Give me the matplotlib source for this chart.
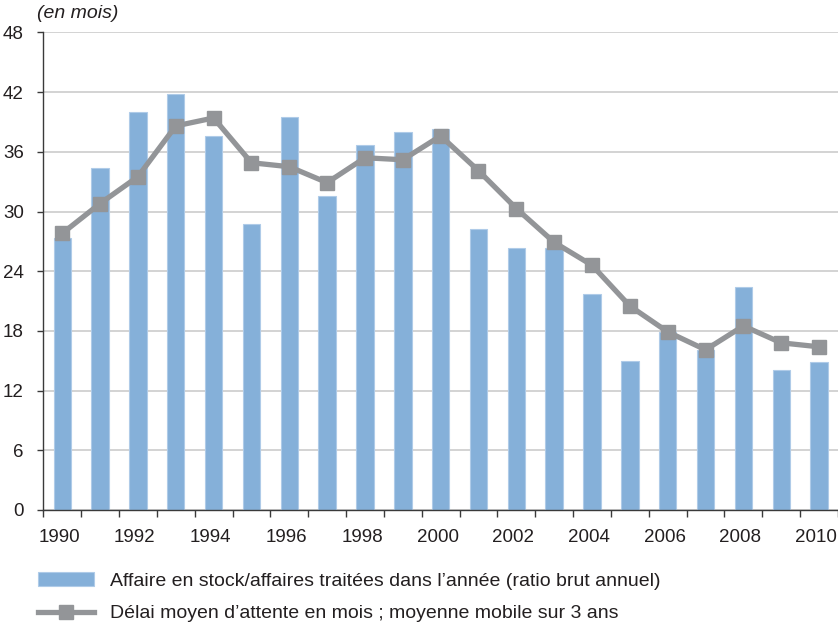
import matplotlib
matplotlib.use("Agg")
import matplotlib.pyplot as plt
import matplotlib.transforms as mtransforms
from matplotlib.patches import Patch
from matplotlib.lines import Line2D

years = list(range(1990, 2011))
ratio_brut = [27.3, 34.4, 40.0, 41.8, 37.6, 28.7, 39.5, 31.6, 36.7, 38.0, 38.3,
              28.2, 26.3, 26.3, 21.7, 15.0, 17.9, 16.1, 22.4, 14.1, 14.9]
delai_moyen = [27.8, 30.8, 33.5, 38.6, 39.4, 34.9, 34.5, 32.9, 35.4, 35.2, 37.6,
               34.1, 30.3, 26.9, 24.6, 20.5, 17.9, 16.1, 18.5, 16.8, 16.4]
yticks = list(range(0, 49, 6))
xtick_years = list(range(1990, 2011, 2))
label_bars = "Affaire en stock/affaires traitées dans l’année (ratio brut annuel)"
label_line = "Délai moyen d’attente en mois ; moyenne mobile sur 3 ans"
unit_label = "(en mois)"

plt.rcParams['font.family'] = ['Liberation Sans', 'DejaVu Sans']

W, H = 838, 623
fig = plt.figure(figsize=(W / 100, H / 100), dpi=100)
ax = fig.add_axes([43.3 / W, 1 - 510 / H, 1.0 - 43.3 / W, (510 - 32.4) / H])

bar_color = '#85B0D9'
line_color = '#939598'
text_color = '#231F20'
spine_color = '#3A3A3A'

ax.bar(years, ratio_brut, width=0.46, color=bar_color, edgecolor='#AFCBE8',
       linewidth=0.8, zorder=2)
ax.plot(years, delai_moyen, color=line_color, linewidth=3.8, marker='s',
        markersize=9.4, zorder=3)

ax.set_xlim(1989.5, 2010.5)
ax.set_ylim(0, 48)
ax.set_yticks(yticks)
ax.set_yticklabels([str(v) for v in yticks])
ax.yaxis.grid(True, color='#C8C8C8', linewidth=1.1, zorder=0)
ax.set_axisbelow(True)

ax.set_xticks(xtick_years)
ax.set_xticklabels([str(v) for v in xtick_years])
ax.set_xticks([y - 0.5 for y in years] + [2010.5], minor=True)
ax.tick_params(axis='x', which='major', length=0, pad=14, labelsize=13.5,
               labelcolor=text_color)
ax.tick_params(axis='x', which='minor', length=5, width=1.0, color=spine_color,
               direction='out')
ax.tick_params(axis='y', which='major', length=4, width=1.0, color=spine_color,
               direction='out', pad=10, labelsize=13.5, labelcolor=text_color)

shift = mtransforms.ScaledTranslation(-3 / 100, 0, fig.dpi_scale_trans)
for lbl in ax.get_xticklabels():
    lbl.set_transform(lbl.get_transform() + shift)

for s in ['top', 'right']:
    ax.spines[s].set_visible(False)
for s in ['left', 'bottom']:
    ax.spines[s].set_color(spine_color)
    ax.spines[s].set_linewidth(1.0)
ax.spines['bottom'].set_zorder(4)

fig.text(37 / W, 1 - 13 / H, unit_label, fontsize=14, style='italic',
         color=text_color, ha='left', va='center')

handles = [Patch(facecolor=bar_color, edgecolor='#AFCBE8', linewidth=0.8),
           Line2D([0], [0], color=line_color, linewidth=3.8, marker='s',
                  markersize=9.4)]
fig.legend(handles, [label_bars, label_line], loc='upper left',
           bbox_to_anchor=(38 / W, 1 - 572 / H), frameon=False, borderpad=0,
           borderaxespad=0, handlelength=2.88, handletextpad=0.82,
           labelspacing=0.78, fontsize=14, labelcolor=text_color, numpoints=1)

fig.savefig('out.png', dpi=100)
